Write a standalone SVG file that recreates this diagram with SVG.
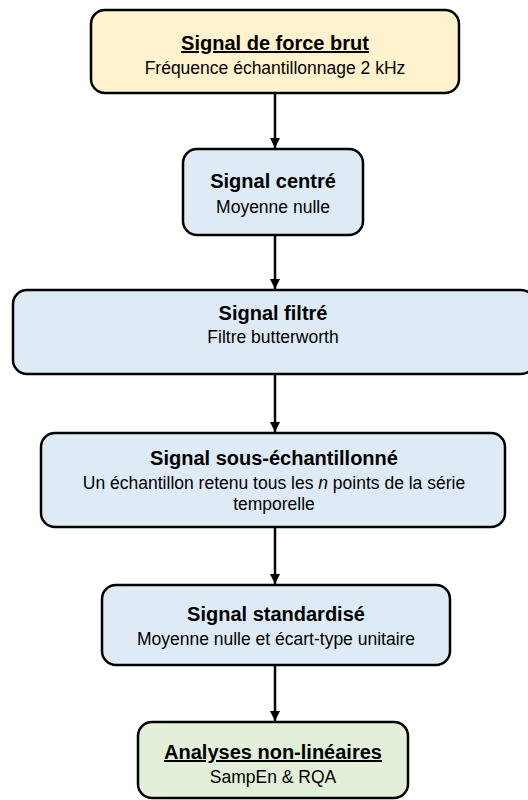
<svg xmlns="http://www.w3.org/2000/svg" width="528" height="800" viewBox="0 0 528 800">
<defs>
<style>
.box{stroke:#000;stroke-width:2.5}
.y{fill:#FFF2CC}.b{fill:#DEEBF7}.g{fill:#E2F0D9}
.t{font-family:"Liberation Sans",Arial,sans-serif;font-weight:bold;font-size:20px;fill:#000;text-anchor:middle}
.s{font-family:"Liberation Sans",Arial,sans-serif;font-size:17.5px;fill:#000;text-anchor:middle}
.u{text-decoration:underline}
.c{stroke:#000;stroke-width:2.5;fill:none}
</style>
<marker id="ah" viewBox="0 0 10 10" refX="10" refY="5" markerWidth="4" markerHeight="4" orient="auto" markerUnits="strokeWidth">
<path d="M0,0 L10,5 L0,10 z" fill="#000"/>
</marker>
</defs>
<rect width="528" height="800" fill="#fff"/>
<g id="connectors">
<line class="c" x1="275" y1="93" x2="275" y2="148" marker-end="url(#ah)"/>
<line class="c" x1="275" y1="235" x2="275" y2="289" marker-end="url(#ah)"/>
<line class="c" x1="275" y1="374" x2="275" y2="432" marker-end="url(#ah)"/>
<line class="c" x1="275" y1="527" x2="275" y2="584" marker-end="url(#ah)"/>
<line class="c" x1="275" y1="665" x2="275" y2="721" marker-end="url(#ah)"/>
</g>
<g id="n1">
<rect class="box y" x="91" y="10" width="368" height="83" rx="14"/>
<text class="t u" x="275" y="50">Signal de force brut</text>
<text class="s" x="275" y="74">Fréquence échantillonnage 2 kHz</text>
</g>
<g id="n2">
<rect class="box b" x="183" y="149" width="180" height="86" rx="14"/>
<text class="t" x="273" y="188">Signal centré</text>
<text class="s" x="273" y="213">Moyenne nulle</text>
</g>
<g id="n3">
<rect class="box b" x="13" y="290" width="522" height="84" rx="14"/>
<text class="t" x="273" y="320">Signal filtré</text>
<text class="s" x="273" y="343">Filtre butterworth</text>
</g>
<g id="n4">
<rect class="box b" x="41" y="433" width="464" height="94" rx="14"/>
<text class="t" x="274" y="465">Signal sous-échantillonné</text>
<text class="s" x="274" y="489">Un échantillon retenu tous les <tspan font-style="italic">n</tspan> points de la série</text>
<text class="s" x="274" y="510">temporelle</text>
</g>
<g id="n5">
<rect class="box b" x="102" y="585" width="348" height="80" rx="14"/>
<text class="t" x="276" y="621">Signal standardisé</text>
<text class="s" x="276" y="645">Moyenne nulle et écart-type unitaire</text>
</g>
<g id="n6">
<rect class="box g" x="138" y="722" width="270" height="76" rx="14"/>
<text class="t u" x="273" y="759">Analyses non-linéaires</text>
<text class="s" x="273" y="783">SampEn &amp; RQA</text>
</g>
</svg>
